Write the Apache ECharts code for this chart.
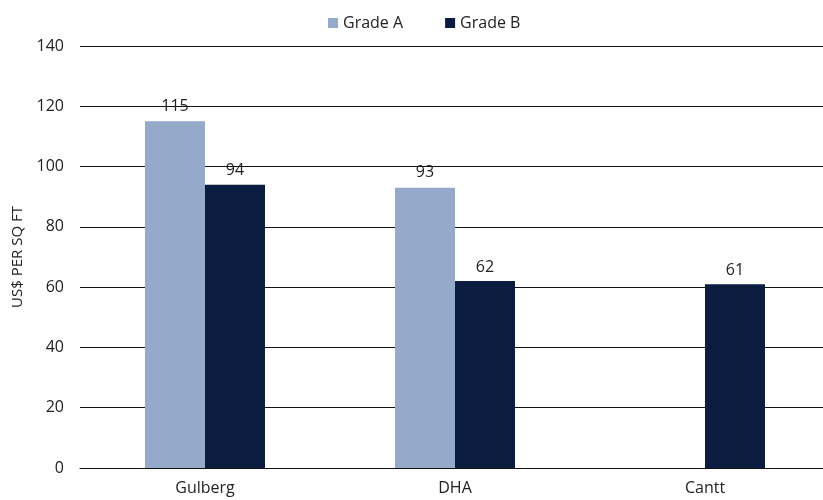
<!DOCTYPE html>
<html>
<head>
<meta charset="utf-8">
<script src="https://cdn.jsdelivr.net/npm/echarts@6/dist/echarts.min.js"></script>
<style>
  html, body { margin: 0; padding: 0; background: #fff; }
  #chart { width: 823px; height: 500px; }
</style>
</head>
<body>
<div id="chart"></div>
<script>
// 数据
const categories = ["Gulberg", "DHA", "Cantt"];
const gradeA = [115, 93, null];
const gradeB = [94, 62, 61];
const yTicks = { min: 0, max: 140, interval: 20 };

(function () {
  const myChart = echarts.init(document.getElementById("chart"));
  const font = "'Open Sans', 'Noto Sans', sans-serif";
  const option = {
    animation: false,
    color: ["#95a9cb", "#0a1d40"],
    textStyle: { fontFamily: font },
    legend: {
      top: 10,
      left: 323,
      itemWidth: 10,
      itemHeight: 10,
      itemGap: 42,
      icon: "rect",
      textStyle: { color: "#222", fontSize: 16, fontFamily: font },
    },
    // 每个类目宽 250px，网格略超出画布右边
    grid: { left: 80, width: 750, top: 46, bottom: 32, outerBoundsMode: "none" },
    xAxis: {
      type: "category",
      data: categories,
      axisTick: { show: false },
      axisLine: { lineStyle: { color: "#111", width: 1 } },
      axisLabel: { color: "#222", fontSize: 16, margin: 12, fontFamily: font },
    },
    yAxis: {
      type: "value",
      min: yTicks.min,
      max: yTicks.max,
      interval: yTicks.interval,
      name: "US$ PER SQ FT",
      nameLocation: "middle",
      nameGap: 53,
      nameTextStyle: { color: "#222", fontSize: 15, fontFamily: font },
      axisLine: { show: false },
      axisTick: { show: false },
      axisLabel: { color: "#222", fontSize: 16, margin: 16, fontFamily: font },
      splitLine: { lineStyle: { color: "#111", width: 1 } },
    },
    series: [
      {
        name: "Grade A",
        type: "bar",
        data: gradeA,
        barWidth: 60,
        barGap: "0%",
        label: { show: true, position: "top", distance: 7, color: "#222", fontSize: 16 },
      },
      {
        name: "Grade B",
        type: "bar",
        data: gradeB,
        barWidth: 60,
        label: { show: true, position: "top", distance: 6, color: "#222", fontSize: 16 },
      },
    ],
  };
  myChart.setOption(option);
  window.addEventListener("resize", function () {
    myChart.resize();
  });
})();
</script>
</body>
</html>
